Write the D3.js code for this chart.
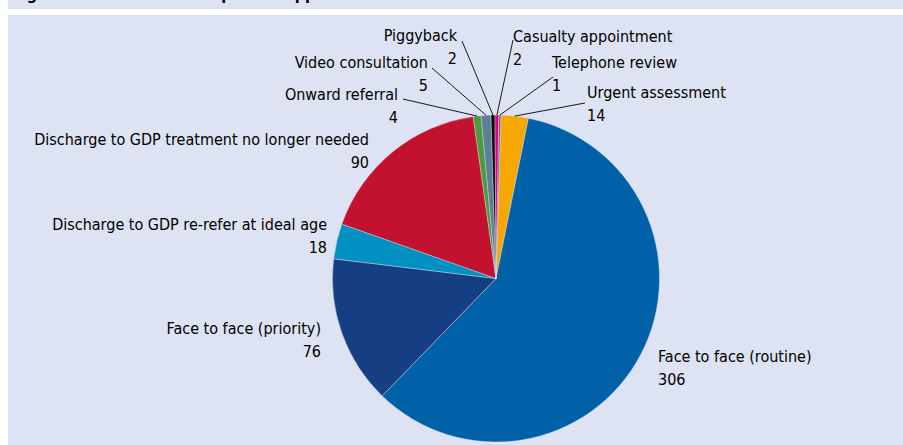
<!DOCTYPE html>
<html>
<head>
<meta charset="utf-8">
<script src="https://cdn.jsdelivr.net/npm/d3@7"></script>
<style>
  body { margin: 0; background: #fff; }
  svg text { font-family: "DejaVu Sans Condensed", "Liberation Sans Narrow", sans-serif; }
</style>
</head>
<body>
<svg id="chart"></svg>
<script>
// Outcome categories, clockwise from 12 o'clock
const categories = [
  'Urgent assessment',
  'Face to face (routine)',
  'Face to face (priority)',
  'Discharge to GDP re-refer at ideal age',
  'Discharge to GDP treatment no longer needed',
  'Onward referral',
  'Video consultation',
  'Piggyback',
  'Casualty appointment',
  'Telephone review'
];
const counts = [14, 306, 76, 18, 90, 4, 5, 2, 2, 1];
const colours = ['#f6a800', '#0061a8', '#153e83', '#0090c2', '#c3122f',
  '#4b9a3b', '#5e7e98', '#000000', '#e2007a', '#7359a4'];

// Where each label sits (baseline of the name) and where its leader starts.
// null leader = no leader line.
const labelLayout = {
  'Urgent assessment': {x: 587, y: 98, anchor: 'start', lead: [585, 103]},
  'Face to face (routine)': {x: 658, y: 362, anchor: 'start', lead: null},
  'Face to face (priority)': {x: 321, y: 334, anchor: 'end', lead: null},
  'Discharge to GDP re-refer at ideal age': {x: 327, y: 230, anchor: 'end', lead: null},
  'Discharge to GDP treatment no longer needed': {x: 369, y: 145, anchor: 'end', lead: null},
  'Onward referral': {x: 398, y: 100, anchor: 'end', lead: [403, 99]},
  'Video consultation': {x: 428, y: 68, anchor: 'end', lead: [432, 68]},
  'Piggyback': {x: 457, y: 41, anchor: 'end', lead: [462, 41]},
  'Casualty appointment': {x: 513, y: 42, anchor: 'start', lead: [513, 40]},
  'Telephone review': {x: 552, y: 68, anchor: 'start', lead: [553, 77]}
};

const width = 903;
const height = 445;
const centre = {x: 496, y: 278.5};
const radius = 163.5;

const svg = d3.select('#chart')
  .attr('width', width)
  .attr('height', height);

// Panel background, with the clipped title strip above it
svg.append('rect')
  .attr('x', 8).attr('y', 0)
  .attr('width', width - 8).attr('height', 9)
  .attr('fill', '#dde3f2');

svg.append('text')
  .attr('x', 12).attr('y', 0)
  .attr('font-weight', 'bold')
  .attr('font-size', 16)
  .attr('fill', '#000')
  .text('Figure 4 Outcome of new patient appointments');

svg.append('rect')
  .attr('x', 8).attr('y', 15)
  .attr('width', width - 8).attr('height', height - 15)
  .attr('fill', '#dde3f2');

const data = categories.map((name, i) => ({name, value: counts[i], colour: colours[i]}));

const pie = d3.pie()
  .sort(null)
  .value(d => d.value)
  .startAngle(0.03)
  .endAngle(0.03 + 2 * Math.PI);

const arcs = pie(data);

const arc = d3.arc().innerRadius(0).outerRadius(radius);
const edge = d3.arc().innerRadius(radius).outerRadius(radius);

const g = svg.append('g')
  .attr('transform', `translate(${centre.x},${centre.y})`);

g.selectAll('path')
  .data(arcs)
  .join('path')
  .attr('d', arc)
  .attr('fill', d => d.data.colour)
  .attr('stroke', '#dde3f2')
  .attr('stroke-width', 0.4);

// Leader lines from the pie edge to the small labels
svg.selectAll('line.leader')
  .data(arcs.filter(d => labelLayout[d.data.name].lead))
  .join('line')
  .attr('class', 'leader')
  .attr('x1', d => labelLayout[d.data.name].lead[0])
  .attr('y1', d => labelLayout[d.data.name].lead[1])
  .attr('x2', d => centre.x + edge.centroid(d)[0])
  .attr('y2', d => centre.y + edge.centroid(d)[1])
  .attr('stroke', '#000')
  .attr('stroke-width', 0.9);

const labels = svg.selectAll('text.label')
  .data(arcs)
  .join('text')
  .attr('class', 'label')
  .attr('font-size', 16)
  .attr('fill', '#000')
  .attr('text-anchor', d => labelLayout[d.data.name].anchor)
  .attr('x', d => labelLayout[d.data.name].x)
  .attr('y', d => labelLayout[d.data.name].y);

labels.append('tspan').text(d => d.data.name);
labels.append('tspan')
  .attr('x', d => labelLayout[d.data.name].x)
  .attr('dy', 22.5)
  .text(d => d.data.value);
</script>
</body>
</html>
